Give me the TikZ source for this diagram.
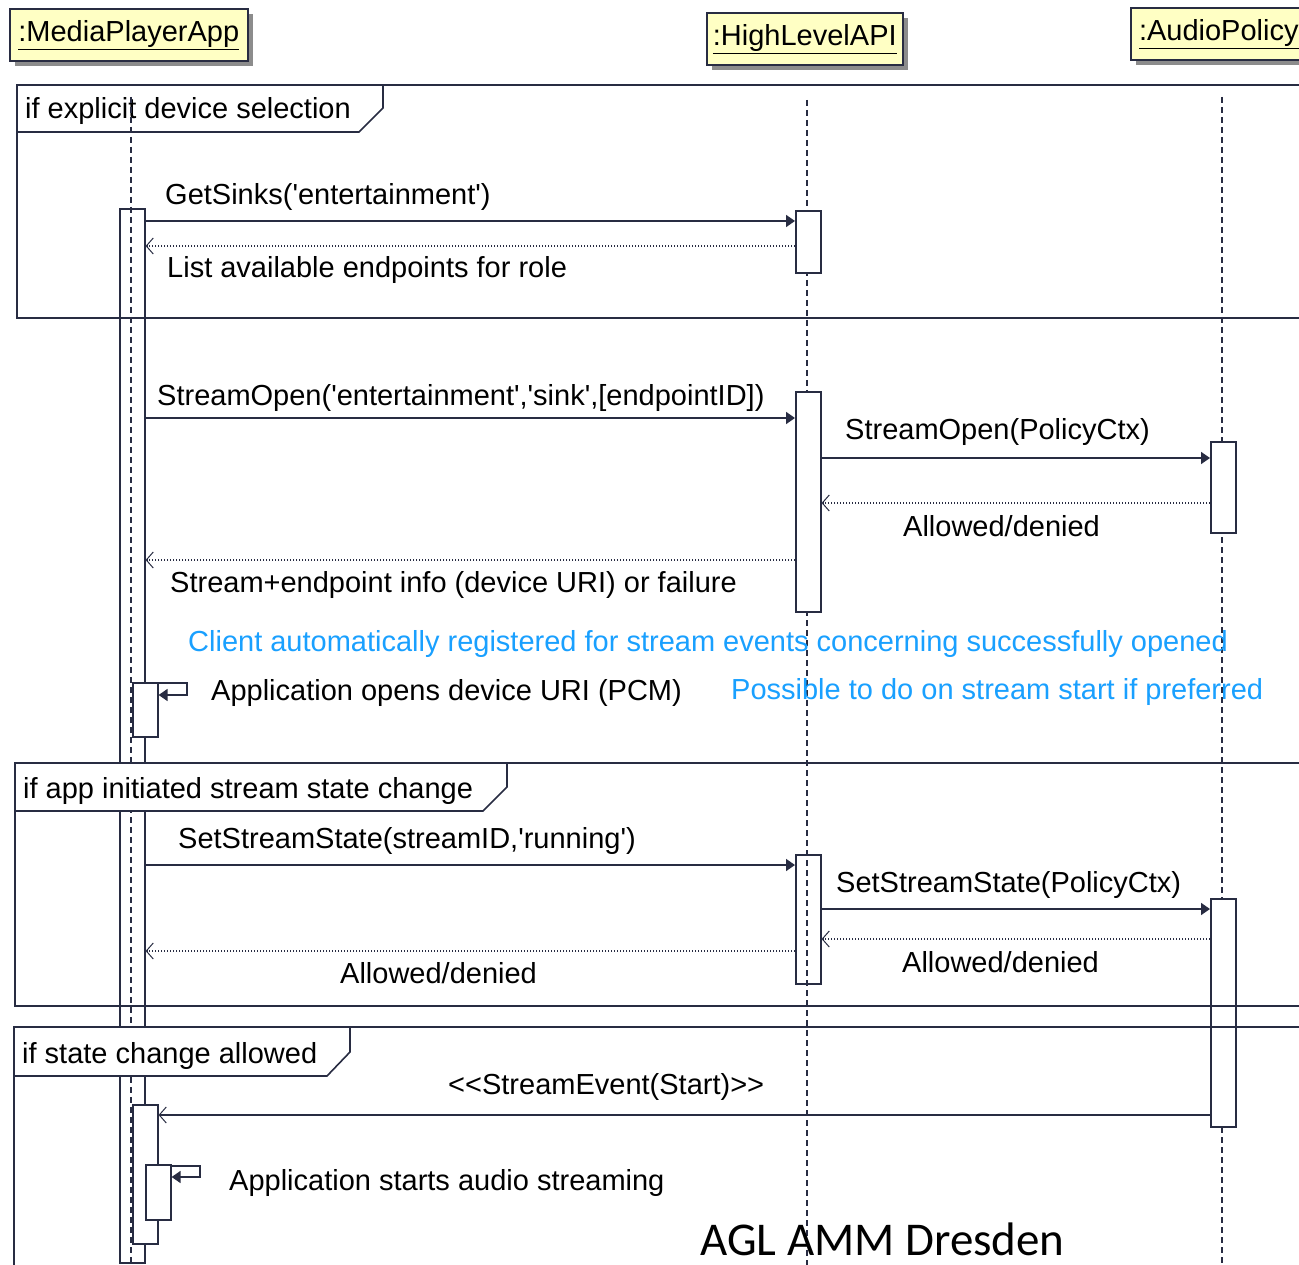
\documentclass[tikz,border=0pt]{standalone}
\usepackage{fontspec}
\setmainfont{Liberation Sans}
\newfontfamily\calibrifont{Carlito}
\usetikzlibrary{arrows.meta,shadows}
\definecolor{ink}{RGB}{40,44,66}
\definecolor{headfill}{RGB}{255,255,196}
\definecolor{shade}{RGB}{140,140,140}
\definecolor{note}{RGB}{25,160,255}
\newcommand{\sq}{\textquotesingle}
\begin{document}
\begin{tikzpicture}[x=1pt,y=-1pt,
  font=\fontsize{29}{34}\selectfont,
  head/.style={draw=ink, line width=1.6pt, fill=headfill, inner sep=0pt,
    anchor=north west, minimum height=52pt,
    drop shadow={shadow xshift=5pt, shadow yshift=-5pt, fill=shade, opacity=1}},
  act/.style={draw=ink, line width=1.6pt, fill=white, inner sep=0pt,
    anchor=north west, minimum width=25pt},
  hollow/.style={act, fill=none},
  life/.style={draw=ink, line width=1.4pt, dash pattern=on 6pt off 4pt},
  frame/.style={draw=ink, line width=1.6pt},
  call/.style={draw=ink, line width=1.6pt, -{Triangle[length=9pt,width=12pt]}},
  reply/.style={draw=ink, line width=1.1pt, dash pattern=on 1.4pt off 1.6pt,
    -{Straight Barb[length=7pt,width=16pt,line width=1pt]}},
  signal/.style={draw=ink, line width=1.6pt,
    -{Straight Barb[length=7pt,width=16pt,line width=1pt]}},
  lbl/.style={anchor=base west, inner sep=0pt},
  notelbl/.style={lbl, text=note}]

\clip (0,0) rectangle (1299,1265);
\fill[white] (0,0) rectangle (1299,1265);

% first combined fragment (below the lifelines)
\draw[frame] (17,85) rectangle (1340,318);
\draw[frame] (17,132) -- (359,132) -- (383,108) -- (383,85);
\node[lbl] (f1) at (25,119) {if explicit device selection};

% participants
\node[head, minimum width=238pt] (mpa) at (9,8) {\underline{:MediaPlayerApp}};
\node[head, minimum width=196pt] (hl) at (706,12) {\underline{:HighLevelAPI}};
\node[head, minimum width=176pt] (ap) at (1130,7) {\underline{:AudioPolicy}};

% lifelines
\coordinate (mpaTop) at (131,97);   \coordinate (mpaEnd) at (131,1265);
\coordinate (hlTop)  at (807,100);  \coordinate (hlEnd)  at (807,1265);
\coordinate (apTop)  at (1222,97);  \coordinate (apEnd)  at (1222,1265);
\draw[life] (mpaTop) -- (mpaEnd);
\draw[life] (hlTop) -- (hlEnd);
\draw[life] (apTop) -- (apEnd);

% activation bars
\node[hollow, minimum height=1054pt] (mpaAct) at (119,208) {};
\node[act, minimum height=62pt]  (hlA1) at (795,210) {};
\node[act, minimum height=220pt] (hlA2) at (795,391) {};
\node[act, minimum height=91pt]  (apA1) at (1210,441) {};
\node[act, minimum height=54pt]  (mpaS1) at (132,682) {};
\node[hollow, minimum height=129pt] (hlA3) at (795,854) {};
\node[act, minimum height=228pt] (apA2) at (1210,898) {};
\node[act, minimum height=139pt] (mpaA2) at (132,1104) {};
\node[act, minimum height=55pt]  (mpaS2) at (145,1164) {};

% device query
\draw[call]  (mpaAct.east |- 0,221) -- (hlA1.west |- 0,221);
\node[lbl] (m1) at (165,205) {GetSinks(\sq entertainment\sq)};
\draw[reply] (hlA1.west |- 0,246) -- (mpaAct.east |- 0,246);
\node[lbl] (m2) at (167,278) {List available endpoints for role};

% stream open
\draw[call]  (mpaAct.east |- 0,418) -- (hlA2.west |- 0,418);
\node[lbl] (m3) at (157,405) {StreamOpen(\sq entertainment\sq,\sq sink\sq,[endpointID])};
\draw[call]  (hlA2.east |- 0,458) -- (apA1.west |- 0,458);
\node[lbl] (m4) at (845,439) {StreamOpen(PolicyCtx)};
\draw[reply] (apA1.west |- 0,503) -- (hlA2.east |- 0,503);
\node[lbl] (m5) at (903,536) {Allowed/denied};
\draw[reply] (hlA2.west |- 0,560) -- (mpaAct.east |- 0,560);
\node[lbl] (m6) at (170,592) {Stream+endpoint info (device URI) or failure};

\node[notelbl] (n1) at (188,651) {Client automatically registered for stream events concerning successfully opened};

% device open by the application
\draw[call] (mpaS1.east |- 0,683) -- (187,683) -- (187,695) -- (mpaS1.east |- 0,695);
\node[lbl] (m7) at (211,700) {Application opens device URI (PCM)};
\node[notelbl] (n2) at (731,699) {Possible to do on stream start if preferred};

% state change
\draw[call]  (mpaAct.east |- 0,865) -- (hlA3.west |- 0,865);
\node[lbl] (m8) at (178,848) {SetStreamState(streamID,\sq running\sq)};
\draw[call]  (hlA3.east |- 0,909) -- (apA2.west |- 0,909);
\node[lbl] (m9) at (836,892) {SetStreamState(PolicyCtx)};
\draw[reply] (apA2.west |- 0,939) -- (hlA3.east |- 0,939);
\node[lbl] (m10) at (902,972) {Allowed/denied};
\draw[reply] (hlA3.west |- 0,951) -- (mpaAct.east |- 0,951);
\node[lbl] (m11) at (340,983) {Allowed/denied};

% stream start event
\draw[signal] (apA2.west |- 0,1115) -- (mpaA2.east |- 0,1115);
\node[lbl] (m12) at (448,1094) {<{}<StreamEvent(Start)>{}>};
\draw[call] (mpaS2.east |- 0,1166) -- (200,1166) -- (200,1177) -- (mpaS2.east |- 0,1177);
\node[lbl] (m13) at (229,1190) {Application starts audio streaming};

% second and third combined fragments
\draw[frame] (15,763) rectangle (1340,1006);
\filldraw[frame, fill=white] (15,763) -- (15,811) -- (483,811) -- (507,787) -- (507,763) -- cycle;
\node[lbl] (f2) at (23,798) {if app initiated stream state change};
\draw[frame] (14,1027) -- (1340,1027) (14,1027) -- (14,1300);
\filldraw[frame, fill=white] (14,1027) -- (14,1076) -- (327,1076) -- (350,1052) -- (350,1027) -- cycle;
\node[lbl] (f3) at (22,1063) {if state change allowed};

\node[anchor=base west, inner sep=0pt, text depth=0pt,
  font=\calibrifont\fontsize{47}{54}\selectfont] (title) at (700,1255) {AGL AMM Dresden};
\end{tikzpicture}
\end{document}
